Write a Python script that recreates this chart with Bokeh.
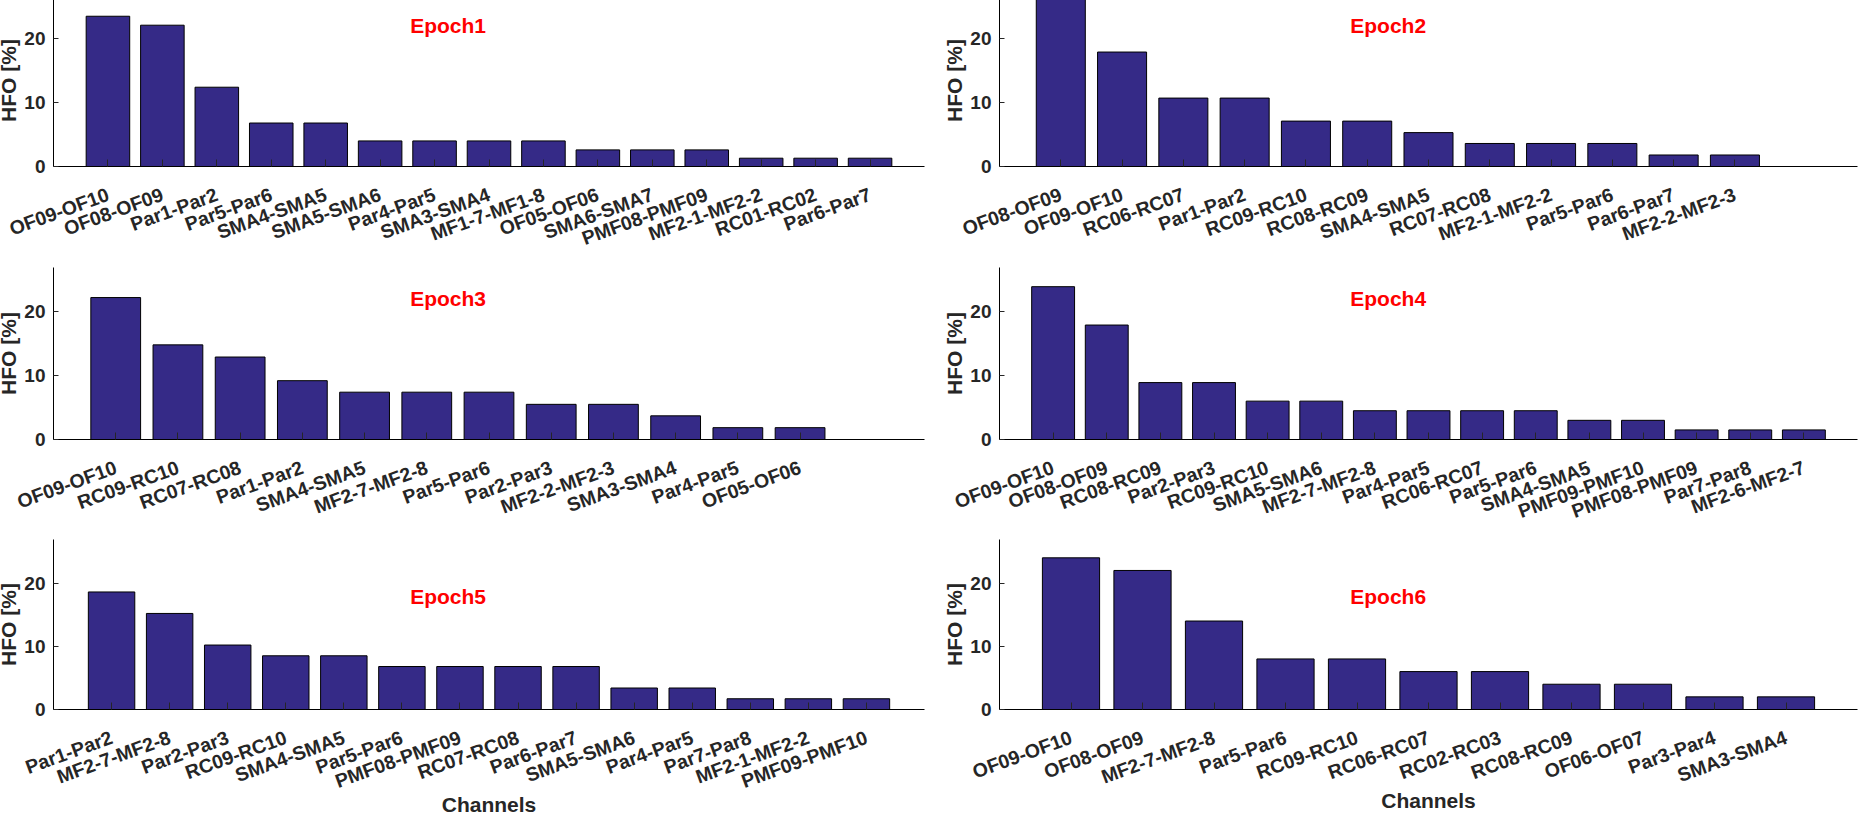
import math
from bokeh.plotting import figure
from bokeh.models import FixedTicker, Label, Range1d, ColumnDataSource
from bokeh.layouts import column, row
from bokeh.embed import file_html
from bokeh.resources import INLINE

# ---------------- data ----------------
epoch1_labels = ["OF09-OF10", "OF08-OF09", "Par1-Par2", "Par5-Par6", "SMA4-SMA5", "SMA5-SMA6",
                 "Par4-Par5", "SMA3-SMA4", "MF1-7-MF1-8", "OF05-OF06", "SMA6-SMA7",
                 "PMF08-PMF09", "MF2-1-MF2-2", "RC01-RC02", "Par6-Par7"]
epoch1_values = [23.5, 22.1, 12.4, 6.8, 6.8, 4.0, 4.0, 4.0, 4.0, 2.6, 2.6, 2.6, 1.3, 1.3, 1.3]

epoch2_labels = ["OF08-OF09", "OF09-OF10", "RC06-RC07", "Par1-Par2", "RC09-RC10", "RC08-RC09",
                 "SMA4-SMA5", "RC07-RC08", "MF2-1-MF2-2", "Par5-Par6", "Par6-Par7", "MF2-2-MF2-3"]
epoch2_values = [26.8, 17.9, 10.7, 10.7, 7.1, 7.1, 5.3, 3.6, 3.6, 3.6, 1.8, 1.8]

epoch3_labels = ["OF09-OF10", "RC09-RC10", "RC07-RC08", "Par1-Par2", "SMA4-SMA5", "MF2-7-MF2-8",
                 "Par5-Par6", "Par2-Par3", "MF2-2-MF2-3", "SMA3-SMA4", "Par4-Par5", "OF05-OF06"]
epoch3_values = [22.2, 14.8, 12.9, 9.2, 7.4, 7.4, 7.4, 5.5, 5.5, 3.7, 1.85, 1.85]

epoch4_labels = ["OF09-OF10", "OF08-OF09", "RC08-RC09", "Par2-Par3", "RC09-RC10", "SMA5-SMA6",
                 "MF2-7-MF2-8", "Par4-Par5", "RC06-RC07", "Par5-Par6", "SMA4-SMA5",
                 "PMF09-PMF10", "PMF08-PMF09", "Par7-Par8", "MF2-6-MF2-7"]
epoch4_values = [23.9, 17.9, 8.9, 8.9, 6.0, 6.0, 4.5, 4.5, 4.5, 4.5, 3.0, 3.0, 1.5, 1.5, 1.5]

epoch5_labels = ["Par1-Par2", "MF2-7-MF2-8", "Par2-Par3", "RC09-RC10", "SMA4-SMA5", "Par5-Par6",
                 "PMF08-PMF09", "RC07-RC08", "Par6-Par7", "SMA5-SMA6", "Par4-Par5",
                 "Par7-Par8", "MF2-1-MF2-2", "PMF09-PMF10"]
epoch5_values = [18.6, 15.2, 10.2, 8.5, 8.5, 6.8, 6.8, 6.8, 6.8, 3.4, 3.4, 1.7, 1.7, 1.7]

epoch6_labels = ["OF09-OF10", "OF08-OF09", "MF2-7-MF2-8", "Par5-Par6", "RC09-RC10", "RC06-RC07",
                 "RC02-RC03", "RC08-RC09", "OF06-OF07", "Par3-Par4", "SMA3-SMA4"]
epoch6_values = [24.0, 22.0, 14.0, 8.0, 8.0, 6.0, 6.0, 4.0, 4.0, 2.0, 2.0]

titles = ["Epoch1", "Epoch2", "Epoch3", "Epoch4", "Epoch5", "Epoch6"]
y_ticks = [0, 10, 20]
y_label = "HFO [%]"
x_label = "Channels"

# ---------------- style ----------------
BAR = "#352A87"
TXT = "#262626"
FONT = "Liberation Sans"


def panel(labels, values, title, x_end, left, height, top_b, frame_h, title_y, xlabel):
    w = 940 if left else 929
    fw = 871 if left else 858
    ml = 61 if left else 67
    mr = w - ml - fw
    p = figure(width=w, height=height, output_backend="svg", toolbar_location=None,
               x_range=Range1d(0, x_end), y_range=Range1d(0, 26.9),
               min_border_left=ml, min_border_right=mr, min_border_top=top_b,
               min_border_bottom=height - top_b - frame_h)
    xs = list(range(1, len(labels) + 1))
    src = ColumnDataSource(dict(x=xs, top=values))
    p.vbar(x="x", top="top", width=0.8, source=src, fill_color=BAR,
           line_color="black", line_width=1)
    p.xgrid.visible = False
    p.ygrid.visible = False
    p.outline_line_color = None
    p.background_fill_color = "white"
    p.border_fill_color = "white"

    xa = p.xaxis[0]
    xa.ticker = FixedTicker(ticks=xs)
    xa.major_label_overrides = {i: lab for i, lab in zip(xs, labels)}
    xa.major_label_orientation = math.radians(20)
    xa.major_label_text_font = FONT
    xa.major_label_text_font_style = "bold"
    xa.major_label_text_font_size = "19.5px"
    xa.major_label_text_color = TXT
    xa.major_label_standoff = 27
    xa.major_tick_in = 7
    xa.major_tick_out = 0
    xa.minor_tick_line_color = None
    xa.axis_line_color = "black"
    xa.major_tick_line_color = "#262626"
    if xlabel:
        xa.axis_label = x_label
        xa.axis_label_text_font = FONT
        xa.axis_label_text_font_style = "bold"
        xa.axis_label_text_font_size = "21px"
        xa.axis_label_text_color = TXT
        xa.axis_label_standoff = -12

    ya = p.yaxis[0]
    ya.ticker = FixedTicker(ticks=y_ticks)
    ya.major_label_text_font = FONT
    ya.major_label_text_font_style = "bold"
    ya.major_label_text_font_size = "19px"
    ya.major_label_text_color = TXT
    ya.major_label_standoff = 8
    ya.major_tick_in = 5
    ya.major_tick_out = 0
    ya.minor_tick_line_color = None
    ya.axis_line_color = "black"
    ya.major_tick_line_color = "#262626"
    ya.axis_label = y_label
    ya.axis_label_text_font = FONT
    ya.axis_label_text_font_style = "bold"
    ya.axis_label_text_font_size = "21px"
    ya.axis_label_text_color = TXT
    ya.axis_label_standoff = 1

    p.add_layout(Label(x=0.453 * x_end, y=title_y, text=title, text_align="center",
                       text_baseline="middle", text_color="#FF0000", text_font=FONT,
                       text_font_style="bold", text_font_size="21px"))
    return p


p1 = panel(epoch1_labels, epoch1_values, titles[0], 16, True, 273, 2, 172, 22.1, False)
p2 = panel(epoch2_labels, epoch2_values, titles[1], 14, False, 273, 2, 172, 22.1, False)
p3 = panel(epoch3_labels, epoch3_values, titles[2], 14, True, 273, 2, 172, 22.1, False)
p4 = panel(epoch4_labels, epoch4_values, titles[3], 16, False, 273, 2, 172, 22.1, False)
p5 = panel(epoch5_labels, epoch5_values, titles[4], 15, True, 281, 1, 172, 17.9, True)
p6 = panel(epoch6_labels, epoch6_values, titles[5], 12, False, 281, 1, 172, 17.9, True)

layout = column(row(p1, p2), row(p3, p4), row(p5, p6), styles={"margin": "-8px"})

open("out.html", "w").write(file_html(layout, INLINE))
